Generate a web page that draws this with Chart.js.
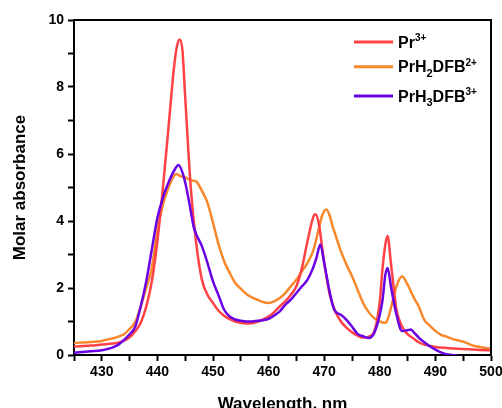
<!DOCTYPE html>
<html>
<head>
<meta charset="utf-8">
<script src="https://cdn.jsdelivr.net/npm/chart.js@4"></script>
<style>
  html, body { margin: 0; padding: 0; background: #fff; }
  #wrap { width: 502px; height: 408px; position: relative; }
</style>
</head>
<body>
<div id="wrap"><canvas id="c" width="502" height="408"></canvas></div>
<script>
// ---- Data ----
const seriesLabels = ["Pr³⁺", "PrH₂DFB²⁺", "PrH₃DFB³⁺"];
const seriesColors = ["#FF4245", "#F7892C", "#6A00E4"];

const prX = [425,428,430,432,433,434,435,436,437,438,439,440,441,442,443,443.5,444,444.5,445,446,447,448,449,450,451,452,453,454,455,456,457,458,459,460,461,462,463,464,465,466,467,468,468.4,469,470,471,472,473,474,475,476,477,478,479,480,480.5,481,481.4,482,482.5,483,484,485,486,487,488,489,490,492,494,496,498,500];
const prY = [0.25,0.28,0.31,0.34,0.37,0.43,0.53,0.71,0.96,1.45,2.2,3.4,5.0,6.8,8.6,9.2,9.42,9.1,7.7,5.0,3.3,2.25,1.8,1.55,1.32,1.17,1.07,1.0,0.96,0.94,0.95,0.99,1.06,1.15,1.28,1.45,1.6,1.8,2.05,2.6,3.4,4.1,4.2,3.95,2.75,1.8,1.3,1.0,0.82,0.68,0.58,0.52,0.55,0.7,1.6,2.6,3.3,3.55,2.75,2.0,1.35,0.85,0.62,0.5,0.38,0.31,0.27,0.24,0.21,0.19,0.17,0.15,0.14];

const h2X = [425,428,430,431,432,433,434,435,436,437,438,439,440,441,442,443,443.5,444,445,446,447,448,449,450,451,452,453,454,455,456,457,458,459,460,461,462,463,464,465,466,467,468,469,469.6,470.4,471,471.5,472,473,474,475,476,477,478,479,480,481,481.5,482,483,484,485,486,487,488,489,490,491,492,493,494,495,496,497,498,499,500];
const h2Y = [0.36,0.39,0.42,0.46,0.5,0.55,0.62,0.78,0.98,1.45,2.0,2.6,3.7,4.5,5.0,5.35,5.4,5.35,5.3,5.22,5.18,4.9,4.55,3.95,3.3,2.8,2.45,2.15,1.98,1.82,1.72,1.65,1.58,1.55,1.6,1.7,1.85,2.05,2.25,2.5,2.75,3.1,3.75,4.15,4.34,4.15,3.85,3.6,3.1,2.7,2.35,1.95,1.55,1.28,1.1,1.0,0.96,1.1,1.4,2.05,2.35,2.1,1.75,1.45,1.05,0.88,0.72,0.6,0.55,0.48,0.44,0.4,0.33,0.27,0.24,0.21,0.19];

const h3X = [425,428,430,431,432,433,434,435,436,437,438,439,440,441,442,443,443.8,444.5,445,445.5,446,446.5,447,448,449,450,451,452,453,454,455,456,457,458,459,460,461,462,463,464,465,466,467,468,468.6,469.3,470,470.9,471.8,473,474,475,476,477,478,479,480,480.5,481,481.4,482,482.5,483,484,485,485.6,486,487,488,489,490,491,492,493,494,495];
const h3Y = [0.07,0.11,0.14,0.18,0.23,0.31,0.45,0.62,0.84,1.45,2.2,3.15,4.1,4.7,5.15,5.5,5.67,5.45,5.15,4.75,4.3,3.84,3.6,3.25,2.75,2.2,1.78,1.35,1.15,1.06,1.02,1.0,1.0,1.02,1.04,1.08,1.18,1.3,1.5,1.65,1.85,2.05,2.25,2.6,2.9,3.3,2.75,1.95,1.35,1.2,1.05,0.85,0.63,0.56,0.51,0.66,1.2,1.65,2.4,2.6,2.05,1.6,1.2,0.72,0.74,0.76,0.7,0.52,0.38,0.26,0.16,0.08,0.02,0.0,-0.02,-0.04];

const xTicksMajor = [430,440,450,460,470,480,490,500];
const yTicksMajor = [0,2,4,6,8,10];

// legend text pieces: [text, kind] kind: n = normal, sup = superscript, sub = subscript
const legendPieces = [
  [["Pr","n"],["3+","sup"]],
  [["PrH","n"],["2","sub"],["DFB","n"],["2+","sup"]],
  [["PrH","n"],["3","sub"],["DFB","n"],["3+","sup"]]
];

function pts(xs, ys) { return xs.map((x, i) => ({x: x, y: ys[i]})); }

const FONT = "'Liberation Sans', Arial, Helvetica, sans-serif";
Chart.defaults.font.family = FONT;
Chart.defaults.color = "#000";

const framePlugin = {
  id: 'frame',
  afterDraw(chart) {
    const {ctx, chartArea: a} = chart;
    ctx.save();
    ctx.strokeStyle = '#000';
    ctx.lineWidth = 2;
    ctx.beginPath();
    ctx.moveTo(a.left - 1, a.top);
    ctx.lineTo(a.right, a.top);
    ctx.lineTo(a.right, a.bottom + 1);
    ctx.stroke();
    ctx.restore();
  }
};

const legendPlugin = {
  id: 'richLegend',
  afterDraw(chart) {
    const {ctx, chartArea: a} = chart;
    const lineX0 = a.right - 137, lineX1 = a.right - 98, textX = a.right - 93;
    const rows = [a.top + 22, a.top + 46.7, a.top + 76];
    ctx.save();
    rows.forEach((cy, i) => {
      ctx.strokeStyle = seriesColors[i];
      ctx.lineWidth = 3;
      ctx.beginPath();
      ctx.moveTo(lineX0, cy);
      ctx.lineTo(lineX1, cy);
      ctx.stroke();
      let x = textX;
      const base = cy + 5.5;
      ctx.fillStyle = '#000';
      ctx.textBaseline = 'alphabetic';
      ctx.textAlign = 'left';
      legendPieces[i].forEach(([t, kind]) => {
        let y = base;
        if (kind === 'n') { ctx.font = "bold 16px " + FONT; }
        else if (kind === 'sup') { ctx.font = "bold 10px " + FONT; y = base - 6.5; }
        else { ctx.font = "bold 11px " + FONT; y = base + 4.5; }
        ctx.fillText(t, x, y);
        x += ctx.measureText(t).width;
      });
    });
    ctx.restore();
  }
};

const datasets = [
  { label: seriesLabels[0], data: pts(prX, prY), borderColor: seriesColors[0], order: 2 },
  { label: seriesLabels[1], data: pts(h2X, h2Y), borderColor: seriesColors[1], order: 3 },
  { label: seriesLabels[2], data: pts(h3X, h3Y), borderColor: seriesColors[2], order: 1 }
].map(d => Object.assign(d, {
  borderWidth: 2.5, pointRadius: 0, fill: false, showLine: true,
  cubicInterpolationMode: 'monotone', backgroundColor: d.borderColor
}));

new Chart(document.getElementById('c'), {
  type: 'line',
  data: { datasets },
  options: {
    responsive: false,
    animation: false,
    events: [],
    layout: { padding: { top: 20, right: 11, bottom: 0, left: 0 } },
    plugins: { legend: { display: false }, tooltip: { enabled: false } },
    scales: {
      x: {
        type: 'linear', min: 425, max: 500,
        border: { display: true, color: '#000', width: 2 },
        grid: { drawOnChartArea: false, drawTicks: true, tickLength: 6, tickColor: '#000', tickWidth: 2 },
        ticks: {
          stepSize: 5, autoSkip: false, maxRotation: 0, padding: 3,
          font: { size: 14, weight: 'bold' }, color: '#000',
          callback: v => xTicksMajor.includes(v) ? String(v) : ''
        },
        title: { display: true, text: 'Wavelength, nm', font: { size: 17, weight: 'bold' }, color: '#000', padding: { top: 0, bottom: -7 } },
        afterFit: s => { s.height = 53; s.paddingLeft = 0; s.paddingRight = 0; }
      },
      y: {
        type: 'linear', min: 0, max: 10,
        border: { display: true, color: '#000', width: 2 },
        grid: { drawOnChartArea: false, drawTicks: true, tickLength: 6, tickColor: '#000', tickWidth: 2 },
        ticks: {
          stepSize: 1, autoSkip: false, padding: 4,
          font: { size: 14, weight: 'bold' }, color: '#000',
          callback: v => yTicksMajor.includes(v) ? String(v) : ''
        },
        title: { display: true, text: 'Molar absorbance', font: { size: 17, weight: 'bold' }, color: '#000', padding: { top: 10, bottom: 0 } },
        afterFit: s => { s.width = 74; s.paddingTop = 0; s.paddingBottom = 0; }
      }
    }
  },
  plugins: [framePlugin, legendPlugin]
});
</script>
</body>
</html>
